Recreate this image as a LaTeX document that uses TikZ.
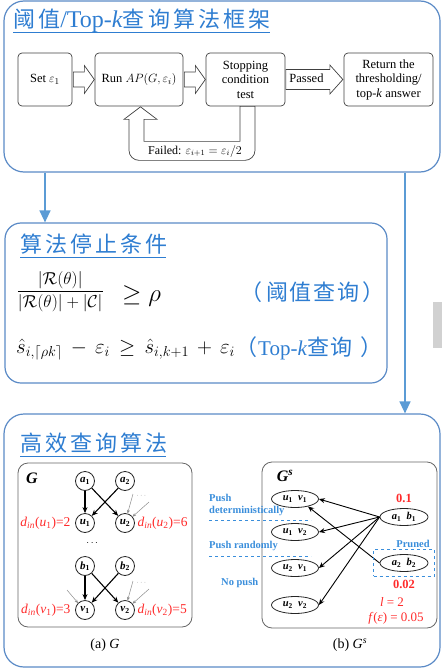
\documentclass[tikz,border=0pt]{standalone}
\usepackage{amsmath}
\usepackage{fontspec}
\setmainfont{Liberation Serif}
\newfontfamily\cjkfont{Noto Sans CJK SC}
\newfontfamily\cjkwide[LetterSpace=14]{Noto Sans CJK SC}
\newfontfamily\cjkmid[LetterSpace=8]{Noto Sans CJK SC}
\usetikzlibrary{arrows.meta,shapes.geometric,calc,fit}
\definecolor{panelblue}{HTML}{5A8AC6}
\definecolor{titleblue}{HTML}{2E7DD1}
\definecolor{connblue}{HTML}{5B9BD5}
\definecolor{redlab}{HTML}{FF2A2A}
\definecolor{labblue}{HTML}{3A8EDB}
\newcommand\myfs[2]{\fontsize{#1}{#2}\selectfont}
\newcommand\harrow[5]{\draw[harr] #1 ++(0,-#3) -- ++({#2-#5},0) -- ++(0,{#3-#4}) -- ++(#5,#4) -- ++(-#5,#4) -- ++(0,{#3-#4}) -- ++({#5-#2},0) -- cycle;}
\newcommand\bisub[2]{\textbf{\textit{#1}\textsubscript{#2}}}
\begin{document}
\begin{tikzpicture}[x=1pt,y=-1pt,
  panel/.style={draw=panelblue, line width=1.2pt, rounded corners=20pt},
  flow/.style={draw=black!75, line width=0.7pt, rounded corners=4pt, align=center, font=\myfs{12.5}{14.5}, inner sep=1pt},
  harr/.style={draw=black!75, line width=0.7pt, fill=white, line join=miter},
  conn/.style={draw=connblue, line width=1.3pt, -{Triangle[width=11pt,length=12pt]}},
  sub/.style={draw=black!60, line width=0.8pt, rounded corners=10pt},
  gnode/.style={circle, draw=black!85, line width=0.8pt, minimum size=19pt, inner sep=0pt, font=\myfs{11}{11}},
  enode/.style={ellipse, draw=black!85, line width=0.8pt, minimum width=47pt, minimum height=17pt, inner sep=0pt, font=\myfs{10.5}{10.5}},
  ged/.style={line width=1.1pt, -{Stealth[length=6pt,width=5pt]}},
  gthin/.style={draw=black!45, line width=0.5pt, -{Stealth[length=3.5pt,width=3pt]}},
  sed/.style={line width=0.9pt, -{Stealth[length=6pt,width=5pt]}},
  dlab/.style={text=redlab, font=\myfs{13.5}{13.5}, inner sep=1.5pt},
  blab/.style={text=labblue, font=\myfs{10.5}{11}\bfseries, inner sep=0pt, anchor=west},
  ttl/.style={text=titleblue, inner sep=0pt, anchor=base west},
  uline/.style={draw=titleblue, line width=0.8pt}
  ]
\useasboundingbox (0,0) rectangle (442,669);
% panels
\node[panel, minimum width=436pt, minimum height=171pt] (p1) at (222,86.5) {};
\node[panel, rounded corners=16pt, minimum width=382pt, minimum height=160pt] (p2) at (196,303) {};
\node[panel, minimum width=436pt, minimum height=253pt] (p3) at (222,540.5) {};
\coordinate (cl) at (45,0);
\coordinate (cr) at (405,0);
\draw[conn] (cl |- p1.south) -- (cl |- p2.north);
\draw[conn] (cr |- p1.south) -- (cr |- p3.north);
\fill[black!18] (433,302) rectangle (442,348);

% panel 1
\node[ttl] (t1) at (13,28) {\cjkwide\myfs{22}{22}阈值\rmfamily\myfs{24}{24}/Top-\textit{k}\cjkwide\myfs{22}{22}查询算法框架};
\draw[uline] ($(t1.base west)+(0,4)$) -- ($(t1.base east)+(-1,4)$);

\node[flow, minimum width=54pt, minimum height=53pt] (set) at (45,79.5) {Set $\varepsilon_1$};
\node[flow, minimum width=88pt, minimum height=53pt] (run) at (139,79.5) {Run $AP(G,\varepsilon_i)$};
\node[flow, minimum width=79pt, minimum height=53pt] (stop) at (245.5,79.5) {Stopping\\condition\\test};
\node[flow, minimum width=89pt, minimum height=53pt] (ret) at (388.5,79.5) {Return the\\thresholding/\\top-\textit{k} answer};
\harrow{($(set.east)+(1,0)$)}{21}{7.5}{14}{10}
\harrow{($(run.east)+(1,0)$)}{21}{7.5}{14}{10}
\harrow{($(stop.east)+(0.5,0)$)}{57}{10}{14.5}{13}
\node[font=\myfs{12.5}{13}, inner sep=0pt] (passed) at (306.5,78) {Passed};
\draw[harr] ($(stop.south)+(-5.5,0)$) -- ($(stop.south)+(-5.5,35)$) -- ($(run.south)+(5,35)$) -- ($(run.south)+(5,13)$) -- ($(run.south)+(18,13)$) -- ($(run.south)+(1.5,0.5)$) -- ($(run.south)+(-15,13)$) -- ($(run.south)+(-10,13)$) [rounded corners=10pt] -- ($(run.south)+(-10,54)$) -- ($(stop.south)+(9.5,54)$) [sharp corners] -- ($(stop.south)+(9.5,0)$) -- cycle;
\node[font=\myfs{12}{13}, inner sep=0pt] (failed) at (195,151) {Failed: $\varepsilon_{i+1}=\varepsilon_i/2$};

% panel 2
\node[ttl] (t2) at (20,252) {\cjkwide\myfs{22}{22}算法停止条件};
\draw[uline] ($(t2.base west)+(0,5)$) -- ($(t2.base east)+(-2,5)$);
\node[anchor=base west, inner sep=0pt] (f1) at (16.5,296) {\myfs{19}{21}$\dfrac{|\mathcal{R}(\theta)|}{|\mathcal{R}(\theta)|+|\mathcal{C}|}$};
\node[anchor=base west, inner sep=0pt] (f1r) at (122,301) {\myfs{24}{26}$\geq\rho$};
\node[ttl] (q1a) at (240,300) {\cjkfont\myfs{22}{22}（};
\node[ttl] (q1b) at (266,300) {\cjkmid\myfs{22}{22}阈值查询};
\node[ttl] (q1c) at (362,300) {\cjkfont\myfs{22}{22}）};
\node[anchor=base west, inner sep=0pt] (f2) at (16,353) {\myfs{22}{24}\medmuskip=7mu\thickmuskip=8mu$\hat{s}_{i,\lceil\rho k\rceil}-\varepsilon_i\geq\hat{s}_{i,k+1}+\varepsilon_i$};
\node[ttl] (q2a) at (235,355) {\cjkfont\myfs{22}{22}（};
\node[ttl] (q2b) at (258,355) {\rmfamily\myfs{21}{21}Top-\textit{k}\cjkmid\myfs{22}{22}查询};
\node[ttl] (q2c) at (360,355) {\cjkfont\myfs{22}{22}）};

% panel 3
\node[ttl] (t3) at (20,451) {\cjkwide\myfs{22}{22}高效查询算法};
\draw[uline] ($(t3.base west)+(0,5)$) -- ($(t3.base east)+(-2,5)$);

% (a) G
\node[sub, minimum width=174pt, minimum height=164pt] (ga) at (105,545) {};
\node[font=\myfs{16}{16}\bfseries\itshape] (glab) at (32,478) {G};
\node[gnode] (a1) at (85,481) {\bisub{a}{1}};
\node[gnode] (a2) at (125,481) {\bisub{a}{2}};
\node[gnode] (u1) at (85,523) {\bisub{u}{1}};
\node[gnode] (u2) at (125,523) {\bisub{u}{2}};
\node[gnode] (b1) at (85,566) {\bisub{b}{1}};
\node[gnode] (b2) at (125,566) {\bisub{b}{2}};
\node[gnode] (v1) at (85,610) {\bisub{v}{1}};
\node[gnode] (v2) at (125,610) {\bisub{v}{2}};
\node[font=\myfs{10}{10}] (dots) at (93,543) {$\cdots$};
\draw[ged] (a1) -- (u1);
\draw[ged] (a1) -- (u2);
\draw[ged] (a2) -- (u1);
\draw[ged] (b1) -- (v1);
\draw[ged] (b1) -- (v2);
\draw[ged] (b2) -- (v1);
\coordinate (u2s1) at (133,494);
\coordinate (u2s2) at (149,502);
\draw[gthin] (u2s1) -- (u2.75);
\draw[gthin] (u2s2) -- (u2.40);
\node[text=black!50, font=\myfs{7}{7}] (u2d) at (142,496) {$\cdots$};
\coordinate (v2s1) at (133,581);
\coordinate (v2s2) at (149,589);
\draw[gthin] (v2s1) -- (v2.75);
\draw[gthin] (v2s2) -- (v2.40);
\node[text=black!50, font=\myfs{7}{7}] (v2d) at (142,583) {$\cdots$};
\coordinate (v1s) at (67,590);
\draw[gthin] (v1s) -- (v1.135);
\node[dlab, anchor=east] (du1) at ($(u1.west)+(-3,0)$) {\textit{d}\textsubscript{\textit{in}}(\textit{u}\textsubscript{1})=2};
\node[dlab, anchor=west] (du2) at ($(u2.east)+(1,0)$) {\textit{d}\textsubscript{\textit{in}}(\textit{u}\textsubscript{2})=6};
\node[dlab, anchor=east] (dv1) at ($(v1.west)+(-3,0)$) {\textit{d}\textsubscript{\textit{in}}(\textit{v}\textsubscript{1})=3};
\node[dlab, anchor=west] (dv2) at ($(v2.east)+(1,0)$) {\textit{d}\textsubscript{\textit{in}}(\textit{v}\textsubscript{2})=5};
\node[font=\myfs{14}{14}] (capa) at (105,645) {(a) \textit{G}};

% (b) Gs
\node[sub, minimum width=175pt, minimum height=166pt] (gb) at (349.5,545) {};
\node[font=\myfs{16}{16}\bfseries\itshape] (gslab) at (285,476) {G\textsuperscript{s}};
\node[enode] (uv11) at (295,499) {\bisub{u}{1}\ \ \bisub{v}{1}};
\node[enode] (uv12) at (295,532) {\bisub{u}{1}\ \ \bisub{v}{2}};
\node[enode] (uv21) at (295,568) {\bisub{u}{2}\ \ \bisub{v}{1}};
\node[enode] (uv22) at (295,605) {\bisub{u}{2}\ \ \bisub{v}{2}};
\node[enode, minimum width=48pt] (ab1) at (404,517) {\bisub{a}{1}\ \ \bisub{b}{1}};
\node[enode, minimum width=48pt] (ab2) at (404,563) {\bisub{a}{2}\ \ \bisub{b}{2}};
\draw[sed] (ab1.west) -- (uv11.east);
\draw[sed] (ab1.west) -- (uv12.east);
\draw[sed] (ab1.west) -- (uv21.east);
\draw[sed] (ab1.west) -- (uv22.east);
\draw[sed] (ab2.west) -- (uv11.-30);
\node[draw=labblue, dashed, line width=0.7pt, fit=(ab2), inner xsep=6pt, inner ysep=4.5pt] (prbox) {};
\node[text=redlab, font=\myfs{12.5}{12.5}\bfseries] (w1) at (404,498) {0.1};
\node[text=redlab, font=\myfs{12.5}{12.5}\bfseries] (w2) at (404,584) {0.02};
\node[text=labblue, font=\myfs{10.5}{11}\bfseries] (pr) at (413,544) {Pruned};
\node[text=redlab, font=\myfs{13}{13}] (ll) at (392,602) {\textit{l} = 2};
\node[text=redlab, font=\myfs{13}{13}] (fe) at (396,618) {\textit{f}(\textit{ε}) = 0.05};
\node[blab] (push1) at (209,498) {Push};
\node[blab] (push2) at (209,511) {deterministically};
\draw[draw=labblue, dashed, line width=0.7pt] ($(push2.south west)+(0,4)$) -- ($(push2.south west)+(102,4)$);
\node[blab] (push3) at (209,546) {Push randomly};
\draw[draw=labblue, dashed, line width=0.7pt] ($(push3.south west)+(0,5)$) -- ($(push3.south west)+(102,5)$);
\node[blab] (push4) at (221,583) {No push};
\node[font=\myfs{14}{14}] (capb) at (350,645) {(b) \textit{G}\textsuperscript{\textit{s}}};
\end{tikzpicture}
\end{document}
